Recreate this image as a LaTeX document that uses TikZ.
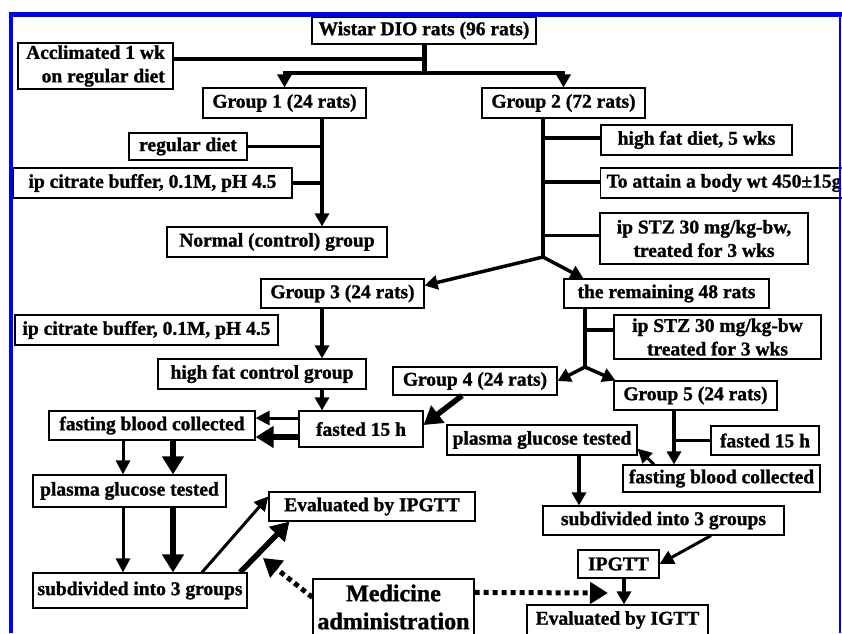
\documentclass[tikz,border=0pt]{standalone}
\usepackage{fontspec}
\setmainfont[BoldFeatures={FakeBold=1.2}]{Liberation Serif}
\usetikzlibrary{arrows.meta}
\begin{document}
\begin{tikzpicture}[x=1pt,y=-1pt,
    box/.style={draw,line width=1.2pt,inner sep=2pt,align=center,
        font=\bfseries\fontsize{19.5}{23.5}\selectfont},
    wh/.style 2 args={minimum width=#1pt,minimum height=#2pt},
    conn/.style={line width=3.5pt},
    arr/.style={conn,-{Triangle[length=13pt,width=14pt]}},
    thinarr/.style={line width=3pt,-{Triangle[length=14pt,width=14pt]}},
    fatarr/.style={line width=5.5pt,-{Triangle[length=18pt,width=21pt]}},
    dotarr/.style={line width=5pt,dash pattern=on 5pt off 4pt,
        -{Triangle[length=18pt,width=21pt]}}]
    \useasboundingbox (0,0) rectangle (842,633);
    \clip (0,0) rectangle (842,633);

    % Define vertices
    \node[box,wh={224}{27}] (wistar) at (424,30.5) {Wistar DIO rats (96 rats)};
    \node[box,wh={155}{46},align=right] (accl) at (95.5,66) {Acclimated 1 wk\\on regular diet};
    \node[box,wh={163}{30}] (g1) at (284.5,103) {Group 1 (24 rats)};
    \node[box,wh={163}{30}] (g2) at (563.5,103) {Group 2 (72 rats)};
    \node[box,wh={118}{27}] (regdiet) at (188,146.5) {regular diet};
    \node[box,wh={279}{30}] (cit1) at (152.5,183) {ip citrate buffer, 0.1M, pH 4.5};
    \node[box,wh={220}{30}] (normal) at (277,242) {Normal (control) group};
    \node[box,wh={191}{30}] (hfd) at (696.5,140) {high fat diet, 5 wks};
    \node[box,anchor=west,minimum height=30pt,inner xsep=6pt] (attain) at (600,183) {To attain a body wt 450±15g};
    \node[box,wh={208}{51}] (stz1) at (704,238.5) {ip STZ 30 mg/kg-bw,\\treated for 3 wks};
    \node[box,wh={163}{29}] (g3) at (342.5,293.5) {Group 3 (24 rats)};
    \node[box,wh={205}{29}] (rem) at (666.5,293.5) {the remaining 48 rats};
    \node[box,wh={263}{30}] (cit2) at (146.5,330) {ip citrate buffer, 0.1M, pH 4.5};
    \node[box,wh={207}{44}] (stz2) at (717.5,337) {ip STZ 30 mg/kg-bw\\treated for 3 wks};
    \node[box,wh={208}{30}] (hfc) at (262,374) {high fat control group};
    \node[box,wh={164}{28}] (g4) at (475,381) {Group 4 (24 rats)};
    \node[box,wh={163}{29}] (g5) at (695.5,395.5) {Group 5 (24 rats)};
    \node[box,wh={124}{36}] (fast1) at (361,429) {fasted 15 h};
    \node[box,wh={206}{29}] (fbc1) at (152,425.5) {fasting blood collected};
    \node[box,wh={190}{30}] (pgt2) at (542,440) {plasma glucose tested};
    \node[box,wh={108}{29}] (fast2) at (765,440.5) {fasted 15 h};
    \node[box,wh={197}{27}] (fbc2) at (721.5,478.5) {fasting blood collected};
    \node[box,wh={193}{32}] (pgt1) at (129.5,491) {plasma glucose tested};
    \node[box,wh={206}{29}] (eipgtt) at (372,506.5) {Evaluated by IPGTT};
    \node[box,wh={241}{29}] (sub2) at (663.5,520.5) {subdivided into 3 groups};
    \node[box,wh={81}{28}] (ipgtt) at (618.5,564) {IPGTT};
    \node[box,wh={214}{35}] (sub1) at (140,590.5) {subdivided into 3 groups};
    \node[box,wh={161}{56},font=\bfseries\fontsize{24}{28}\selectfont] (med) at (393.5,607) {Medicine\\administration};
    \node[box,wh={181}{30}] (eigtt) at (617.5,620) {Evaluated by IGTT};

    % Junctions and columns
    \coordinate (top) at (424,73);
    \coordinate (colA) at (322,0);
    \coordinate (s2) at (543,257);
    \coordinate (s5) at (585,367);
    \coordinate (colG) at (674,0);
    \coordinate (colR) at (579,0);
    \coordinate (colT) at (123,0);
    \coordinate (colK) at (173,0);
    \coordinate (medtip1) at (608,593);
    \coordinate (medtip2) at (263,558);

    % Draw edges
    \draw[line width=5pt] (wistar) -- (top);
    \draw[conn] ([yshift=7pt]accl.east) -- ([yshift=7pt]accl.east -| top);
    \draw[arr] (top) -| (g1.north);
    \draw[arr] (top) -| (g2.north);

    \draw[arr] (g1.south -| colA) -- (normal.north -| colA);
    \draw[conn] (regdiet.east) -- (regdiet.east -| colA);
    \draw[conn] (cit1.east) -- (cit1.east -| colA);

    \draw[conn] (g2.south -| s2) -- (s2);
    \draw[conn] ([yshift=2pt]hfd.west) -- ([yshift=2pt]hfd.west -| s2);
    \draw[conn] ([yshift=1pt]attain.west) -- ([yshift=1pt]attain.west -| s2);
    \draw[conn] ([yshift=3pt]stz1.west) -- ([yshift=3pt]stz1.west -| s2);
    \draw[arr] (s2) -- ([yshift=8pt]g3.east);
    \draw[arr] (s2) -- ([xshift=20pt]rem.north west);

    \draw[arr] (g3.south -| colA) -- (hfc.north -| colA);
    \draw[arr] (hfc.south -| colA) -- (fast1.north -| colA);
    \draw[thinarr] ([yshift=11pt]fast1.west) -- ([yshift=11pt]fast1.west -| fbc1.east);
    \draw[fatarr] ([yshift=-8pt]fast1.west) -- ([yshift=-8pt]fast1.west -| fbc1.east);
    \draw[fatarr] ([xshift=-13pt]g4.south) -- ([yshift=4pt]fast1.east);

    \draw[conn] (rem.south -| s5) -- (s5);
    \draw[conn] ([yshift=7pt]stz2.west) -- ([yshift=7pt]stz2.west -| s5);
    \draw[arr] (s5) -- (g4.east);
    \draw[arr] (s5) -- ([xshift=2pt]g5.north west);

    \draw[arr] (g5.south -| colG) -- (fbc2.north -| colG);
    \draw[conn] (fast2.west) -- (fast2.west -| colG);
    \draw[thinarr] ([xshift=-67.5pt]fbc2.north) -- ([yshift=7pt]pgt2.south east);
    \draw[arr] (pgt2.south -| colR) -- (sub2.north -| colR);
    \draw[thinarr] ([xshift=47.5pt]sub2.south) -- (ipgtt.east);
    \draw[arr] ([xshift=5.5pt]ipgtt.south) -- ([xshift=5.5pt]ipgtt.south |- eigtt.north);

    \draw[thinarr] (fbc1.south -| colT) -- (pgt1.north -| colT);
    \draw[fatarr] (fbc1.south -| colK) -- (pgt1.north -| colK);
    \draw[thinarr] (pgt1.south -| colT) -- (sub1.north -| colT);
    \draw[fatarr] (pgt1.south -| colK) -- (sub1.north -| colK);
    \draw[thinarr] ([xshift=62pt]sub1.north) -- ([yshift=-5pt]eipgtt.north west);
    \draw[fatarr] ([xshift=100pt]sub1.north) -- ([xshift=21pt]eipgtt.south west);

    \draw[dotarr] ([yshift=-14pt]med.north east) -- (medtip1);
    \draw[dotarr] ([yshift=-19pt]med.north west) -- (medtip2);

    % Frame
    \draw[blue,line width=4.5pt] (11,633) -- (11,14.5) -- (842,14.5);
    \draw[blue,line width=1.5pt] (840,14) -- (840,633);
\end{tikzpicture}
\end{document}
